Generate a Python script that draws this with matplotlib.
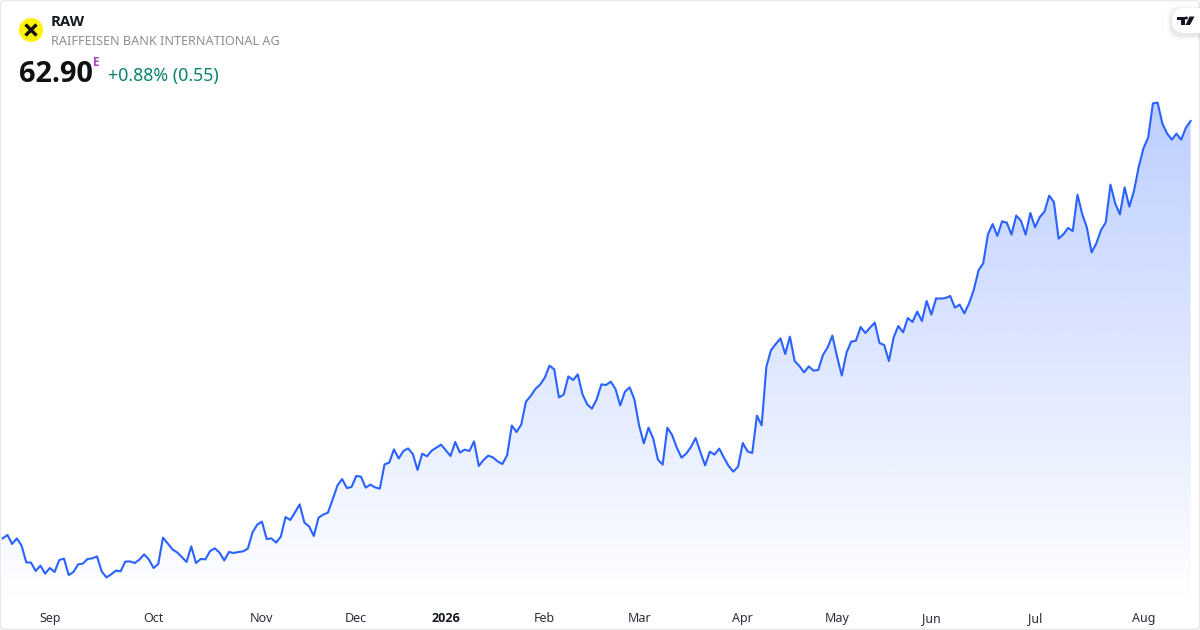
import numpy as np
import matplotlib
matplotlib.use("Agg")
import matplotlib.pyplot as plt
from matplotlib.patches import Circle, FancyBboxPatch, Polygon

plt.rcParams["font.family"] = ["Noto Sans", "DejaVu Sans"]
BOLD_FONT = ["Open Sans", "DejaVu Sans"]

# daily closes
closes_a = [29.51, 29.78, 29.06, 29.51, 28.93, 27.59, 27.57, 26.90, 27.33, 26.69, 27.14, 26.82,
            27.78, 27.89, 26.58, 26.82, 27.43, 27.49, 27.86, 27.91, 28.07, 26.87, 26.39, 26.63,
            26.93, 26.87, 27.65, 27.67, 27.54, 27.81, 28.23, 27.83, 27.14, 27.46, 29.57, 29.11,
            28.63, 28.39, 28.02, 27.62, 28.87, 27.54, 27.86, 27.83, 28.50, 28.71, 28.37, 27.75,
            28.42, 28.34, 28.42, 28.47, 28.69, 29.99, 30.61, 30.85, 29.46, 29.51, 29.17, 29.65,
            31.22, 30.98, 31.59, 32.23, 30.77, 30.47, 29.70, 31.17, 31.41, 31.57, 32.63, 33.73,
            34.26, 33.54, 33.62, 34.50, 34.45, 33.57, 33.81, 33.59, 33.49, 35.43, 35.57, 36.63, 35.90]
closes_b = [36.50, 36.71, 36.26, 34.98, 36.29, 36.07, 36.53, 36.77, 37.01, 36.55, 36.10, 37.22,
            36.37, 36.61, 36.50, 37.27, 35.30, 35.78, 36.13, 35.99, 35.67, 35.46, 36.15, 38.53,
            38.02, 38.61, 40.45, 40.90, 41.46, 41.81, 42.37, 43.33, 43.03, 40.79, 41.01, 42.47,
            42.18, 42.63, 41.03, 40.23, 39.89, 40.63, 41.83, 41.78, 42.05, 41.46, 40.15, 41.25,
            41.59, 40.63, 38.55, 37.11, 38.37, 37.49, 35.81, 35.41, 38.37, 37.78, 36.77, 35.97,
            36.29, 36.82, 37.54, 36.42, 35.35, 36.45, 36.21, 36.69, 35.97, 35.30, 34.85, 35.25,
            37.14, 36.47, 36.34, 39.33, 38.55, 43.25, 44.58, 45.06, 45.51, 44.26, 45.65, 43.70]
closes_c = [43.30, 42.79, 43.27, 42.93, 42.98, 44.18, 44.79, 45.73, 44.05, 42.53, 44.37, 45.25,
            45.33, 46.42, 45.94, 46.37, 46.77, 45.14, 44.98, 43.70, 45.59, 46.50, 45.99, 47.14,
            46.82, 47.65, 46.90, 48.50, 47.41, 48.71, 48.69, 48.74, 48.90, 47.97, 48.21, 47.51,
            48.31, 49.38, 50.95, 51.51, 53.83, 54.66, 53.70, 54.87, 54.77, 53.81, 55.33, 54.93,
            53.81, 55.54, 54.39, 55.22, 55.65, 56.93, 56.42, 53.49, 53.83, 54.34, 54.10, 57.01,
            55.46, 54.37, 52.39, 53.11, 54.18, 54.79, 57.81, 56.31, 55.43, 57.59, 56.05, 57.33,
            59.25, 60.71, 61.59, 64.31, 64.37, 62.71, 61.91, 61.41, 61.89, 61.41, 62.37, 62.90]

month_pos = [10, 32, 55, 75, 94, 115, 135, 157, 177, 197, 219, 242]
month_labels = ["Sep", "Oct", "Nov", "Dec", "2026", "Feb", "Mar", "Apr", "May", "Jun", "Jul", "Aug"]

closes = np.array(closes_a + closes_b + closes_c)
days = np.arange(len(closes))

LINE = "#2962ff"
TEXT = "#131722"

fig = plt.figure(figsize=(12, 6.3), dpi=100)
ax = fig.add_axes([0, 0, 1, 1])
ax.set_xlim(-0.573, 253.99)
ax.set_ylim(22.18, 72.58)
for s in ax.spines.values():
    s.set_visible(False)
ax.set_yticks([])
ax.set_xticks(month_pos, month_labels)
ax.tick_params(axis="x", direction="in", length=0, pad=-13, labelsize=9, labelcolor="#2a2e39")
for lbl in ax.get_xticklabels():
    if lbl.get_text() == "2026":
        lbl.set_family(BOLD_FONT)
        lbl.set_fontweight("bold")
        lbl.set_color(TEXT)

# area under the line, fading out downwards
area = ax.fill_between(days, closes, 22.18, color="none", lw=0)
grad = np.linspace(0, 1, 256).reshape(-1, 1)
rgba = np.zeros((256, 1, 4))
rgba[:, :, :3] = matplotlib.colors.to_rgb(LINE)
rgba[:, :, 3] = 0.31 * (1 - grad)
img = ax.imshow(rgba, extent=[-0.573, 253.99, 24.2, closes.max()], origin="upper", aspect="auto", zorder=1)
img.set_clip_path(area.get_paths()[0], transform=ax.transData)
ax.plot(days, closes, color=LINE, lw=1.5, zorder=2, solid_joinstyle="round")
ax.set_xlim(-0.573, 253.99)
ax.set_ylim(22.18, 72.58)

# header, badge and frame in pixel coordinates
deco = fig.add_axes([0, 0, 1, 1], facecolor="none")
deco.set_xlim(0, 1200)
deco.set_ylim(630, 0)
deco.axis("off")

deco.add_patch(FancyBboxPatch((0.5, 0.5), 1199, 629, boxstyle="round,pad=0,rounding_size=4",
                              fc="none", ec="#e6e8ee", lw=1))

deco.add_patch(Circle((31, 30), 12, fc="#fff200", ec="none"))
deco.plot([25.5, 36.5], [24.5, 35.5], color="#111111", lw=2.4, solid_capstyle="butt")
deco.plot([36.5, 25.5], [24.5, 35.5], color="#111111", lw=2.4, solid_capstyle="butt")

deco.text(51, 22, "RAW", fontsize=10.8, fontweight="bold", family=BOLD_FONT, color=TEXT, va="center", ha="left")
deco.text(51, 41.5, "RAIFFEISEN BANK INTERNATIONAL AG", fontsize=9.1, color="#8a8e97", va="center", ha="left")
deco.text(18.5, 74, "62.90", fontsize=20.8, fontweight="bold", family=BOLD_FONT, color="#111111", va="center", ha="left")
deco.text(93, 63, "E", fontsize=8.5, fontweight="bold", family=BOLD_FONT, color="#ab47bc", va="center", ha="left")
deco.text(108, 76.5, "+0.88% (0.55)", fontsize=12.8, color="#0b8270", va="center", ha="left")

# tradingview badge
for grow, alpha in [(5, 0.02), (3, 0.03), (1.5, 0.04)]:
    deco.add_patch(FancyBboxPatch((1172 - grow, 8 - grow + 2), 40 + grow * 2, 25 + grow * 2,
                                  boxstyle="round,pad=0,rounding_size=12", fc="black", ec="none", alpha=alpha))
deco.add_patch(FancyBboxPatch((1172, 8), 40, 25, boxstyle="round,pad=0,rounding_size=12", fc="white", ec="none"))
deco.add_patch(Polygon([(1177, 16.5), (1184.5, 16.5), (1184.5, 25), (1180.5, 25), (1180.5, 19.5), (1177, 19.5)], fc="#131722", ec="none"))
deco.add_patch(Circle((1186.3, 18), 1.5, fc="#131722", ec="none"))
deco.add_patch(Polygon([(1189.5, 16.5), (1194.5, 16.5), (1190, 25), (1185.5, 25)], fc="#131722", ec="none"))
deco.set_xlim(0, 1200)
deco.set_ylim(630, 0)

fig.savefig("out.png", dpi=100, facecolor="white")
